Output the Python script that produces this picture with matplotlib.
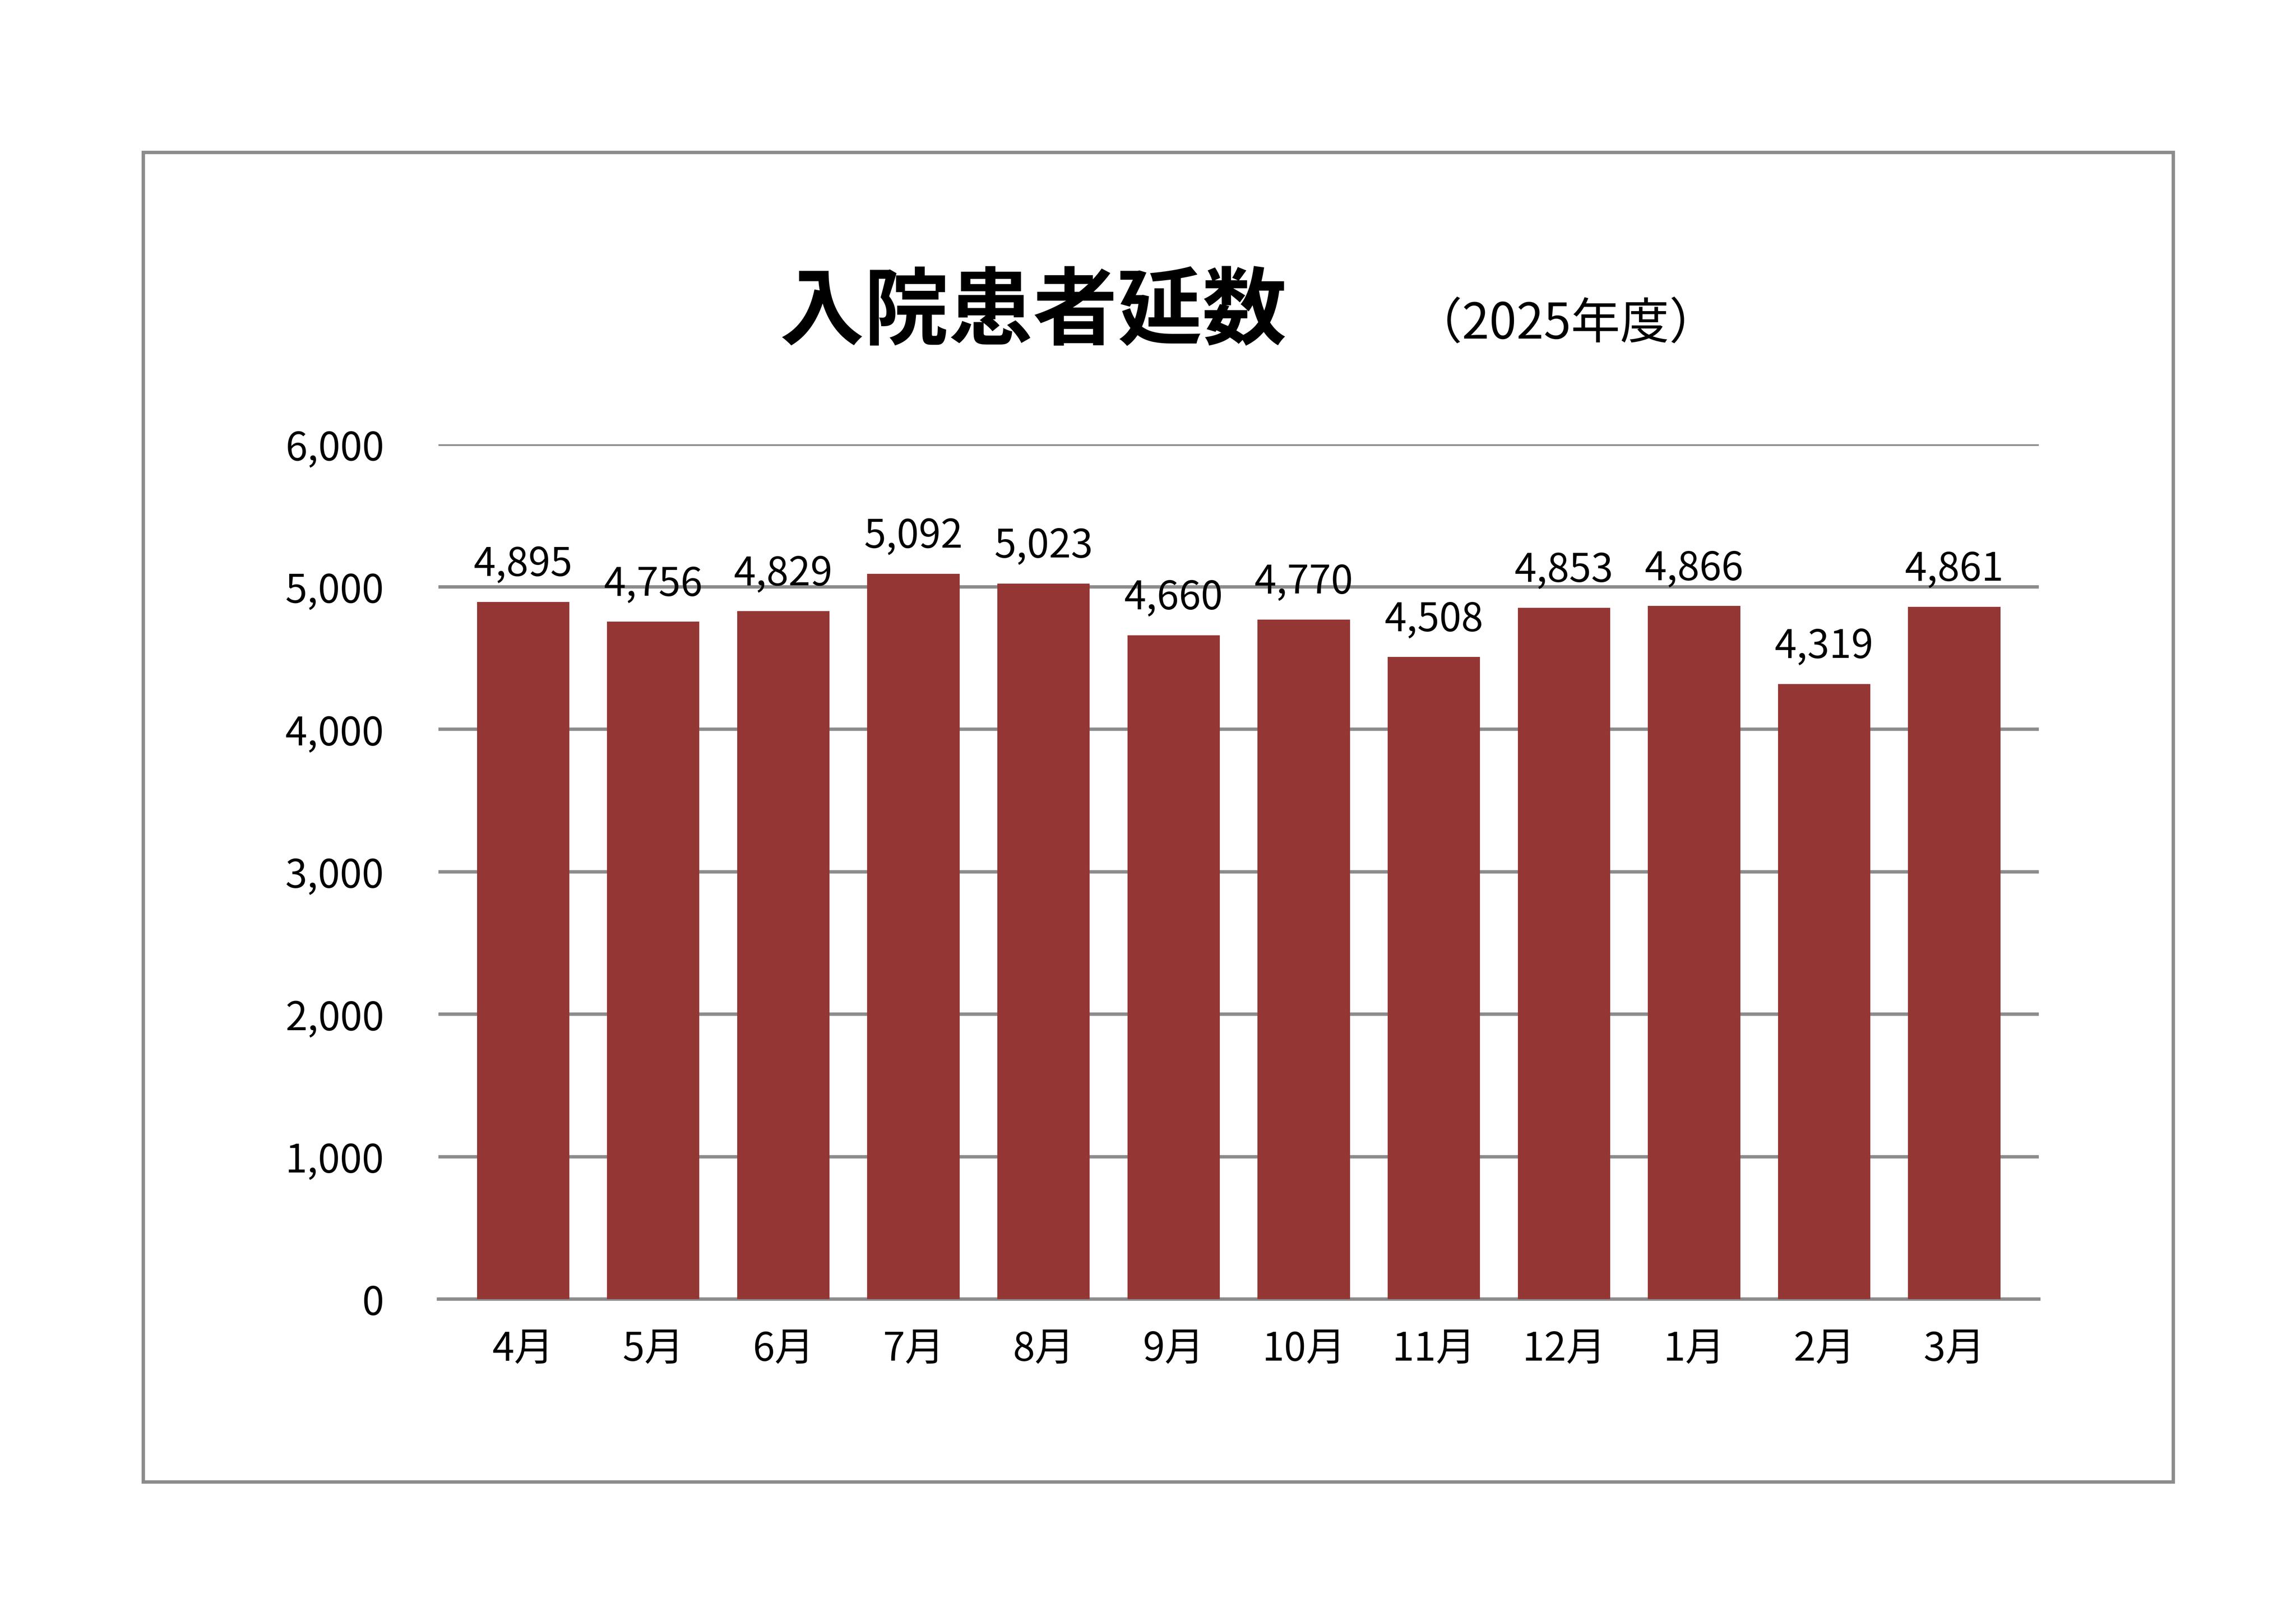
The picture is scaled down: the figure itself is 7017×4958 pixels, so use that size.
import matplotlib
matplotlib.use("Agg")
import matplotlib.pyplot as plt
from matplotlib.patches import Rectangle

months = ["4月","5月","6月","7月","8月","9月","10月","11月","12月","1月","2月","3月"]
values = [4895, 4756, 4829, 5092, 5023, 4660, 4770, 4508, 4853, 4866, 4319, 4861]
yticks = [0, 1000, 2000, 3000, 4000, 5000, 6000]

plt.rcParams['font.family'] = ['Noto Sans CJK JP', 'DejaVu Sans']
fig = plt.figure(figsize=(7017/300, 4958/300), dpi=300)
fig.patches.append(Rectangle((0.0624, 0.0864), 0.9466-0.0624, 0.906-0.0864,
                             transform=fig.transFigure, fill=False, edgecolor='#8c8c8c', lw=2.5))
ax = fig.add_axes([0.191, 0.199, 0.888-0.191, 0.726-0.199])
x = range(len(months))
bars = ax.bar(x, values, width=0.71, color='#943634', zorder=3)
for xi, v in zip(x, values):
    ax.text(xi, v + 120, f"{v:,}", ha='center', va='bottom', fontsize=29)
ax.set_xlim(-0.65, len(months) - 0.35)
ax.set_ylim(0, 6000)
ax.set_yticks(yticks)
ax.set_yticklabels([f"{t:,}" for t in yticks], fontsize=29)
ax.set_xticks(list(x))
ax.set_xticklabels(months, fontsize=29)
ax.tick_params(axis='x', length=0, pad=22)
ax.tick_params(axis='y', length=0, pad=40)
ax.grid(axis='y', color='#8c8c8c', lw=2.5, zorder=0)
for s in ['left', 'right', 'top']:
    ax.spines[s].set_visible(False)
ax.spines['bottom'].set_color('#8c8c8c')
ax.spines['bottom'].set_linewidth(2.5)
fig.text(0.45, 0.807, "入院患者延数", ha='center', va='center', fontsize=62, fontweight='bold')
fig.text(0.682, 0.80, "（2025年度）", ha='center', va='center', fontsize=36)
fig.savefig("out.png", dpi=300)
